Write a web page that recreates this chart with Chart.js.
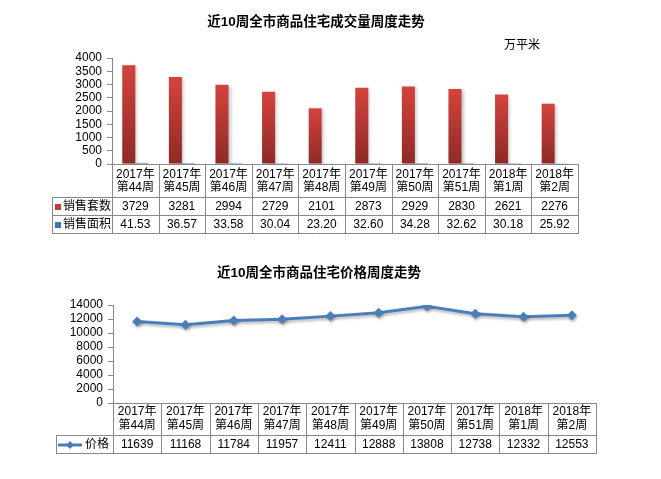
<!DOCTYPE html>
<html>
<head>
<meta charset="utf-8">
<script src="https://cdn.jsdelivr.net/npm/chart.js@4.4.1/dist/chart.umd.min.js"></script>
<style>
    html, body { margin: 0; padding: 0; background: #fff; }
    #wrap { position: relative; width: 661px; height: 479px; }
    .box { position: absolute; left: 0; width: 661px; }
    #box1 { top: 0; height: 240px; }
    #box2 { top: 240px; height: 239px; }
</style>
</head>
<body>
<div id="wrap">
    <div class="box" id="box1"><canvas id="volumeChart"></canvas></div>
    <div class="box" id="box2"><canvas id="priceChart"></canvas></div>
</div>
<script>
const weeks = [
    ['2017年', '第44周'], ['2017年', '第45周'], ['2017年', '第46周'], ['2017年', '第47周'],
    ['2017年', '第48周'], ['2017年', '第49周'], ['2017年', '第50周'], ['2017年', '第51周'],
    ['2018年', '第1周'], ['2018年', '第2周']
];
const salesUnits = [3729, 3281, 2994, 2729, 2101, 2873, 2929, 2830, 2621, 2276];
const salesArea = [41.53, 36.57, 33.58, 30.04, 23.20, 32.60, 34.28, 32.62, 30.18, 25.92];
const prices = [11639, 11168, 11784, 11957, 12411, 12888, 13808, 12738, 12332, 12553];

const volumeTicks = [0, 500, 1000, 1500, 2000, 2500, 3000, 3500, 4000];
const priceTicks = [0, 2000, 4000, 6000, 8000, 10000, 12000, 14000];

const FONT = '"Liberation Sans", "Noto Sans CJK SC", sans-serif';
const GRID = '#898989';
const RED = '#c53a35';
const BLUE = '#3f74b5';
const LINE_BLUE = '#4a7ebb';

// draws the data table under the x axis, column edges come from the x scale
function drawTable(chart, opt) {
    const ctx = chart.ctx;
    const xs = chart.scales.x;
    const left = xs.left, right = xs.right;
    const n = weeks.length;
    const cw = (right - left) / n;
    const top = chart.chartArea.bottom;
    const bottom = opt.headerBottom + opt.rows.length * opt.rowHeight;

    ctx.save();
    ctx.strokeStyle = GRID;
    ctx.lineWidth = 1;
    ctx.beginPath();
    for (let i = 0; i <= n; i++) {
        const px = Math.round(left + i * cw) + 0.5;
        ctx.moveTo(px, top);
        ctx.lineTo(px, bottom);
    }
    ctx.moveTo(opt.tableLeft + 0.5, opt.headerBottom);
    ctx.lineTo(opt.tableLeft + 0.5, bottom);
    for (let r = 0; r <= opt.rows.length; r++) {
        const py = opt.headerBottom + r * opt.rowHeight + 0.5;
        ctx.moveTo(opt.tableLeft, py);
        ctx.lineTo(Math.round(right) + 1, py);
    }
    ctx.stroke();

    ctx.fillStyle = '#000';
    ctx.font = '12px ' + FONT;
    ctx.textAlign = 'center';
    ctx.textBaseline = 'middle';
    weeks.forEach((w, i) => {
        const cx = left + (i + 0.5) * cw;
        ctx.fillText(w[0], cx, opt.headerLine1);
        ctx.fillText(w[1], cx, opt.headerLine2);
    });

    opt.rows.forEach((row, r) => {
        const cy = opt.headerBottom + (r + 0.5) * opt.rowHeight + 1;
        ctx.textAlign = 'center';
        ctx.fillStyle = '#000';
        row.text.forEach((t, i) => ctx.fillText(t, left + (i + 0.5) * cw, cy));

        // legend key
        const lx = opt.tableLeft;
        if (row.marker === 'square') {
            ctx.fillStyle = row.color;
            ctx.fillRect(lx + 3, cy - 3, 6, 6);
            ctx.fillStyle = '#000';
            ctx.textAlign = 'left';
            ctx.fillText(row.label, lx + 11, cy);
        } else {
            ctx.strokeStyle = row.color;
            ctx.lineWidth = 3;
            ctx.beginPath();
            ctx.moveTo(lx + 2, cy);
            ctx.lineTo(lx + 26, cy);
            ctx.stroke();
            ctx.fillStyle = row.color;
            ctx.beginPath();
            ctx.moveTo(lx + 14, cy - 4);
            ctx.lineTo(lx + 18, cy);
            ctx.lineTo(lx + 14, cy + 4);
            ctx.lineTo(lx + 10, cy);
            ctx.closePath();
            ctx.fill();
            ctx.fillStyle = '#000';
            ctx.textAlign = 'left';
            ctx.fillText(row.label, lx + 29, cy);
        }
    });
    ctx.restore();
}

function drawText(ctx, text, x, y, font, align) {
    ctx.save();
    ctx.fillStyle = '#000';
    ctx.font = font;
    ctx.textAlign = align || 'center';
    ctx.textBaseline = 'middle';
    ctx.fillText(text, x, y);
    ctx.restore();
}

function yAxis(ticks, width) {
    return {
        min: ticks[0],
        max: ticks[ticks.length - 1],
        afterBuildTicks(scale) {
            scale.ticks = ticks.map(v => ({ value: v }));
        },
        ticks: {
            autoSkip: false,
            color: '#000',
            padding: 5,
            font: { size: 12, family: FONT },
            callback: v => String(v)
        },
        grid: { drawOnChartArea: false, drawTicks: true, tickLength: 5, color: GRID },
        border: { color: GRID },
        afterFit(scale) { scale.width = width; }
    };
}

const xAxis = {
    type: 'category',
    offset: true,
    grid: { display: false },
    ticks: { display: false },
    border: { color: GRID },
    afterFit(scale) { scale.height = 0; }
};

const volumeTable = {
    id: 'volumeTable',
    afterDraw(chart) {
        drawText(chart.ctx, '近10周全市商品住宅成交量周度走势', 316, 22, 'bold 13.5px ' + FONT);
        drawText(chart.ctx, '万平米', 522, 46, '12px ' + FONT);
        drawTable(chart, {
            tableLeft: 52, headerBottom: 197, rowHeight: 18,
            headerLine1: 175, headerLine2: 188,
            rows: [
                { label: '销售套数', marker: 'square', color: RED, text: salesUnits.map(String) },
                { label: '销售面积', marker: 'square', color: BLUE, text: salesArea.map(v => v.toFixed(2)) }
            ]
        });
    }
};

const barShadow = {
    id: 'barShadow',
    beforeDatasetsDraw(chart) {
        const ctx = chart.ctx;
        ctx.save();
        ctx.shadowColor = 'rgba(0,0,0,0.22)';
        ctx.shadowBlur = 3;
        ctx.shadowOffsetX = 2;
        ctx.shadowOffsetY = 1;
    },
    afterDatasetsDraw(chart) { chart.ctx.restore(); }
};

new Chart(document.getElementById('volumeChart'), {
    type: 'bar',
    data: {
        labels: weeks,
        datasets: [
            {
                label: '销售套数',
                data: salesUnits,
                backgroundColor(c) {
                    const y = c.chart.scales.y;
                    if (!y || c.type !== 'data' || !c.parsed) return RED;
                    const top = y.getPixelForValue(c.parsed.y);
                    const base = y.getPixelForValue(0);
                    if (!isFinite(top) || !isFinite(base) || top === base) return RED;
                    const g = c.chart.ctx.createLinearGradient(0, top, 0, base);
                    g.addColorStop(0, '#d4433e');
                    g.addColorStop(1, '#8e2a26');
                    return g;
                },
                categoryPercentage: 0.56,
                barPercentage: 1
            },
            {
                label: '销售面积',
                data: salesArea,
                backgroundColor: BLUE,
                categoryPercentage: 0.56,
                barPercentage: 1
            }
        ]
    },
    options: {
        responsive: true,
        maintainAspectRatio: false,
        animation: false,
        layout: { padding: { left: 0, top: 58, right: 83, bottom: 76 } },
        plugins: { legend: { display: false }, tooltip: { enabled: false }, title: { display: false } },
        scales: { x: xAxis, y: yAxis(volumeTicks, 112) }
    },
    plugins: [barShadow, volumeTable]
});

const priceTable = {
    id: 'priceTable',
    afterDraw(chart) {
        drawText(chart.ctx, '近10周全市商品住宅价格周度走势', 319, 33, 'bold 13.5px ' + FONT);
        drawTable(chart, {
            tableLeft: 56, headerBottom: 195, rowHeight: 18,
            headerLine1: 172, headerLine2: 186,
            rows: [
                { label: '价格', marker: 'line', color: LINE_BLUE, text: prices.map(String) }
            ]
        });
    }
};

const lineShadow = {
    id: 'lineShadow',
    beforeDatasetsDraw(chart) {
        const ctx = chart.ctx;
        ctx.save();
        ctx.shadowColor = 'rgba(0,0,0,0.3)';
        ctx.shadowBlur = 3;
        ctx.shadowOffsetX = 1;
        ctx.shadowOffsetY = 2;
    },
    afterDatasetsDraw(chart) { chart.ctx.restore(); }
};

new Chart(document.getElementById('priceChart'), {
    type: 'line',
    data: {
        labels: weeks,
        datasets: [{
            label: '价格',
            data: prices,
            borderColor: LINE_BLUE,
            backgroundColor: LINE_BLUE,
            borderWidth: 3,
            pointStyle: 'rectRot',
            pointRadius: 5,
            pointBorderWidth: 0,
            pointBackgroundColor: LINE_BLUE,
            tension: 0
        }]
    },
    options: {
        responsive: true,
        maintainAspectRatio: false,
        animation: false,
        layout: { padding: { left: 0, top: 65, right: 65, bottom: 76 } },
        plugins: { legend: { display: false }, tooltip: { enabled: false }, title: { display: false } },
        scales: { x: xAxis, y: yAxis(priceTicks, 113) }
    },
    plugins: [lineShadow, priceTable]
});
</script>
</body>
</html>
